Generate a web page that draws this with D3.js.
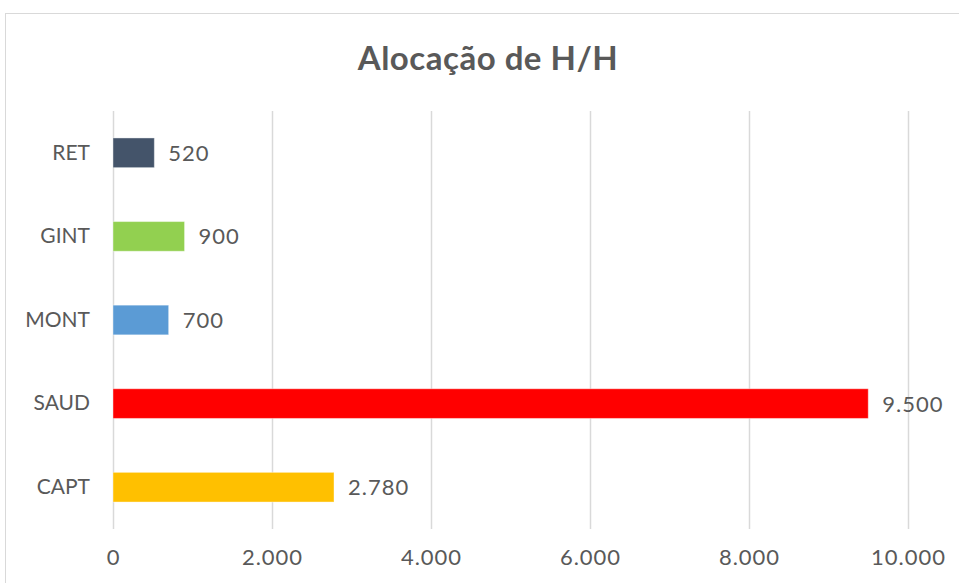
<!DOCTYPE html>
<html>
<head>
<meta charset="utf-8">
<script src="https://cdn.jsdelivr.net/npm/d3@7"></script>
<style>
  body { margin: 0; background: #fff; }
  text { font-family: Lato, "Open Sans", sans-serif; fill: #595959; }
</style>
</head>
<body>
<svg id="chart" width="959" height="583"></svg>
<script>
const categories = ['RET', 'GINT', 'MONT', 'SAUD', 'CAPT']
const values = [520, 900, 700, 9500, 2780]
const barColors = ['#44546A', '#92D050', '#5B9BD5', '#FF0000', '#FFC000']
const xTicks = [0, 2000, 4000, 6000, 8000, 10000]
const title = 'Alocação de H/H'

const width = 959
const height = 583
const marginLeft = 113
const marginRight = 51
const marginTop = 111
const marginBottom = 54

const locale = d3.formatLocale({decimal: ',', thousands: '.', grouping: [3], currency: ['R$', '']})
const fmt = locale.format(',d')

const svg = d3.select('#chart')

// chart area frame
svg.append('rect')
    .attr('x', 5.5)
    .attr('y', 13.5)
    .attr('width', 1000)
    .attr('height', 1000)
    .attr('fill', '#fff')
    .attr('stroke', '#d9d9d9')

svg.append('text')
    .text(title)
    .attr('x', 488)
    .attr('y', 70)
    .attr('text-anchor', 'middle')
    .attr('font-size', 33)
    .attr('font-weight', 'bold')
    .attr('letter-spacing', 0.5)

const xScale = d3.scaleLinear()
    .domain([0, 10000])
    .range([marginLeft, width - marginRight])

const yScale = d3.scaleBand()
    .domain(categories)
    .range([marginTop, height - marginBottom])
    .paddingInner(0.645)
    .paddingOuter(0.3225)

// gridlines
svg.append('g')
    .selectAll('line')
    .data(xTicks)
    .join('line')
    .attr('x1', d => Math.round(xScale(d)) + 0.5)
    .attr('x2', d => Math.round(xScale(d)) + 0.5)
    .attr('y1', marginTop)
    .attr('y2', height - marginBottom)
    .attr('stroke', '#d9d9d9')
    .attr('stroke-width', 1.5)

// x axis labels
const xAxis = svg.append('g')
    .attr('transform', `translate(0, ${height - marginBottom})`)
    .call(d3.axisBottom(xScale).tickValues(xTicks).tickFormat(fmt).tickSize(0).tickPadding(20))
xAxis.select('.domain').remove()
xAxis.attr('font-family', null)
xAxis.selectAll('text')
    .attr('font-size', 22)
    .attr('letter-spacing', 1)
    .attr('fill', '#595959')

// y axis labels
const yAxis = svg.append('g')
    .attr('transform', `translate(90, 0)`)
    .call(d3.axisLeft(yScale).tickSize(0).tickPadding(0))
yAxis.select('.domain').remove()
yAxis.attr('font-family', null)
yAxis.selectAll('text')
    .attr('font-size', 21)
    .attr('fill', '#595959')

const rows = categories.map((c, i) => ({cat: c, value: values[i], color: barColors[i]}))

svg.append('g')
    .selectAll('rect')
    .data(rows)
    .join('rect')
    .attr('x', xScale(0))
    .attr('y', d => yScale(d.cat))
    .attr('width', d => xScale(d.value) - xScale(0))
    .attr('height', yScale.bandwidth())
    .attr('fill', d => d.color)
    .attr('stroke', '#fff')
    .attr('stroke-opacity', 0.4)

svg.append('g')
    .selectAll('text')
    .data(rows)
    .join('text')
    .text(d => fmt(d.value))
    .attr('x', d => xScale(d.value) + 14)
    .attr('y', d => yScale(d.cat) + yScale.bandwidth() / 2)
    .attr('dy', '0.36em')
    .attr('font-size', 22)
    .attr('letter-spacing', 1)
</script>
</body>
</html>
